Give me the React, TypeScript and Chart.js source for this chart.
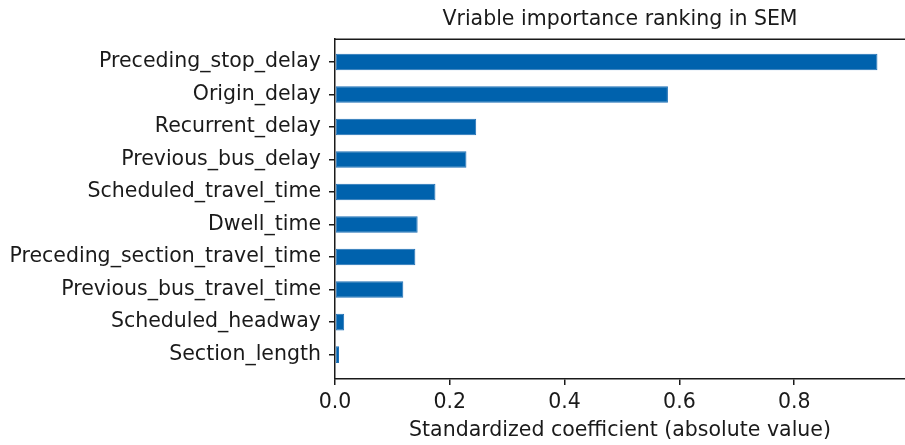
import React, { useEffect, useRef } from "react";
import { Chart, registerables } from "chart.js";

Chart.register(...registerables);

// Variables, top to bottom
const categories = [
  "Preceding_stop_delay",
  "Origin_delay",
  "Recurrent_delay",
  "Previous_bus_delay",
  "Scheduled_travel_time",
  "Dwell_time",
  "Preceding_section_travel_time",
  "Previous_bus_travel_time",
  "Scheduled_headway",
  "Section_length",
];

// Standardized coefficients (absolute value)
const coefficients = [0.945, 0.58, 0.246, 0.229, 0.175, 0.144, 0.14, 0.119, 0.016, 0.007];

const xTickValues = [0, 0.2, 0.4, 0.6, 0.8];

const chartTitle = "Vriable importance ranking in SEM";
const xAxisTitle = "Standardized coefficient (absolute value)";

const FONT_FAMILY = '"DejaVu Sans", sans-serif';
const INK = "#1a1a1a";
const BAR_COLOR = "#0062ad";

// Draws the upper frame line of the axes box
const topSpine = {
  id: "topSpine",
  afterDraw(chart: any) {
    const { ctx, chartArea } = chart;
    ctx.save();
    ctx.strokeStyle = INK;
    ctx.lineWidth = 1.5;
    ctx.beginPath();
    ctx.moveTo(chartArea.left - 0.75, chartArea.top);
    ctx.lineTo(chartArea.right, chartArea.top);
    ctx.stroke();
    ctx.restore();
  },
};

export default function App() {
  const canvasRef = useRef<HTMLCanvasElement | null>(null);

  useEffect(() => {
    if (!canvasRef.current) return;
    const font = { family: FONT_FAMILY, size: 20.5, weight: "normal" as const };

    const chart = new Chart(canvasRef.current, {
      type: "bar",
      data: {
        datasets: [
          {
            data: categories.map((_, i) => ({ x: coefficients[i], y: i })),
            backgroundColor: BAR_COLOR,
            borderColor: "#1f70b6",
            borderWidth: 1,
            borderSkipped: false,
            barPercentage: 0.51,
            categoryPercentage: 1,
          },
        ],
      },
      options: {
        indexAxis: "y",
        responsive: false,
        animation: false,
        layout: { padding: 0 },
        plugins: {
          legend: { display: false },
          tooltip: { enabled: false },
          title: {
            display: true,
            text: chartTitle,
            fullSize: false,
            color: INK,
            font,
            padding: { top: 7.3, bottom: 7.3 },
          },
        },
        scales: {
          x: {
            type: "linear",
            position: "bottom",
            min: 0,
            max: 0.993,
            offset: false,
            afterBuildTicks: (scale: any) => {
              scale.ticks = xTickValues.map((v) => ({ value: v }));
            },
            afterFit: (scale: any) => {
              scale.height = 66;
            },
            ticks: {
              color: INK,
              font,
              padding: 5,
              maxRotation: 0,
              callback: (v: any) => Number(v).toFixed(1),
            },
            grid: {
              display: true,
              offset: false,
              drawOnChartArea: false,
              drawTicks: true,
              tickLength: 6,
              color: INK,
              lineWidth: 1.5,
            },
            border: { display: true, color: INK, width: 1.5 },
            title: {
              display: true,
              text: xAxisTitle,
              color: INK,
              font,
              padding: { top: 0, bottom: 2 },
            },
          },
          y: {
            type: "linear",
            position: "left",
            reverse: true,
            offset: false,
            min: -0.7,
            max: 9.75,
            afterBuildTicks: (scale: any) => {
              scale.ticks = categories.map((_, i) => ({ value: i }));
            },
            afterFit: (scale: any) => {
              scale.width = 335;
            },
            ticks: {
              color: INK,
              font,
              padding: 8,
              autoSkip: false,
              callback: (v: any) => categories[Number(v)],
            },
            grid: {
              display: true,
              offset: false,
              drawOnChartArea: false,
              drawTicks: true,
              tickLength: 6,
              color: INK,
              lineWidth: 1.5,
            },
            border: { display: true, color: INK, width: 1.5 },
          },
        },
      },
      plugins: [topSpine],
    });

    return () => chart.destroy();
  }, []);

  return (
    <div style={{ position: "absolute", left: 0, top: 0, width: 905, height: 445, background: "#fff" }}>
      <canvas ref={canvasRef} width={905} height={445} style={{ display: "block" }} />
    </div>
  );
}
